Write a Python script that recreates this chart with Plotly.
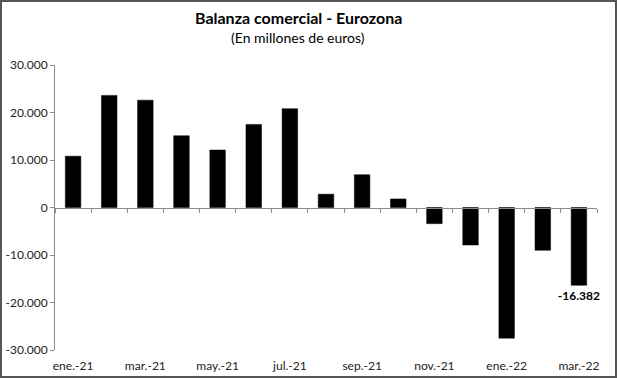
import plotly.graph_objects as go

months = ["ene.-21", "feb.-21", "mar.-21", "abr.-21", "may.-21", "jun.-21", "jul.-21",
          "ago.-21", "sep.-21", "oct.-21", "nov.-21", "dic.-21", "ene.-22", "feb.-22", "mar.-22"]
balance = [10800, 23600, 22600, 15100, 12100, 17500, 20800,
           2800, 6900, 1800, -3400, -7900, -27500, -9000, -16382]
label_month = "mar.-22"
label_text = "-16.382"
y_ticks = [-30000, -20000, -10000, 0, 10000, 20000, 30000]
y_tick_text = ["-30.000", "-20.000", "-10.000", "0", "10.000", "20.000", "30.000"]
x_label_months = months[::2]

W, H = 617, 378
ml, mr, mt, mb = 55, 20, 65, 28
font_family = "Lato, 'Open Sans', sans-serif"
title_cx = (298 - ml) / (W - ml - mr)

texts = [label_text if m == label_month else "" for m in months]

fig = go.Figure()
fig.add_trace(go.Bar(
    x=months, y=balance, marker=dict(color="black", line=dict(color="black", width=0.5)),
    text=texts, textposition="outside", cliponaxis=False, constraintext="none",
    textfont=dict(family=font_family, size=12, color="black", weight="bold"),
    hoverinfo="x+y", showlegend=False,
))
# invisible helper trace for bottom label axis
fig.add_trace(go.Scatter(x=months, y=balance, xaxis="x2", mode="markers",
                         marker=dict(opacity=0), hoverinfo="skip", showlegend=False))

fig.update_layout(
    width=W, height=H,
    margin=dict(l=ml, r=mr, t=mt, b=mb, autoexpand=False),
    paper_bgcolor="white", plot_bgcolor="white",
    bargap=0.57,
    separators=",.",
    font=dict(family=font_family, size=12, color="#222"),
    xaxis=dict(
        type="category", anchor="free", position=0.5, automargin=False,
        showline=True, linecolor="#8c8c8c", linewidth=1,
        ticks="outside", tickson="boundaries", ticklen=4, tickcolor="#8c8c8c",
        showticklabels=False, showgrid=False, zeroline=False,
        range=[-0.5, len(months) - 0.5],
    ),
    xaxis2=dict(
        type="category", overlaying="x", matches="x", anchor="y", side="bottom",
        automargin=False, ticklabelstandoff=7,
        showline=False, ticks="", showgrid=False, zeroline=False,
        tickvals=x_label_months, ticktext=x_label_months,
        tickfont=dict(size=12, color="#222"),
    ),
    yaxis=dict(
        range=[-30000, 30000], tickvals=y_ticks, ticktext=y_tick_text, automargin=False,
        showline=True, linecolor="#8c8c8c", linewidth=1,
        ticks="outside", ticklen=4, tickcolor="#8c8c8c",
        showgrid=False, zeroline=False,
        tickfont=dict(size=12, color="#222"),
    ),
    annotations=[
        dict(text="<b>Balanza comercial - Eurozona</b>", xref="paper", yref="paper",
             x=title_cx, y=1 + (mt - 18) / (H - mt - mb),
             xanchor="center", yanchor="middle", showarrow=False,
             font=dict(size=16, color="black", family=font_family)),
        dict(text="(En millones de euros)", xref="paper", yref="paper",
             x=title_cx, y=1 + (mt - 38) / (H - mt - mb),
             xanchor="center", yanchor="middle", showarrow=False,
             font=dict(size=14, color="black", family=font_family)),
    ],
    shapes=[
        dict(type="rect", xref="paper", yref="paper",
             x0=-(ml - 1) / (W - ml - mr), x1=1 + (mr - 1) / (W - ml - mr),
             y0=-(mb - 1) / (H - mt - mb), y1=1 + (mt - 1) / (H - mt - mb),
             line=dict(color="#555", width=2), fillcolor="rgba(0,0,0,0)", layer="below"),
    ],
)

fig.write_html("out.html", config={"displayModeBar": False},
               post_script="document.body.style.margin='0';document.body.style.overflow='hidden';")
